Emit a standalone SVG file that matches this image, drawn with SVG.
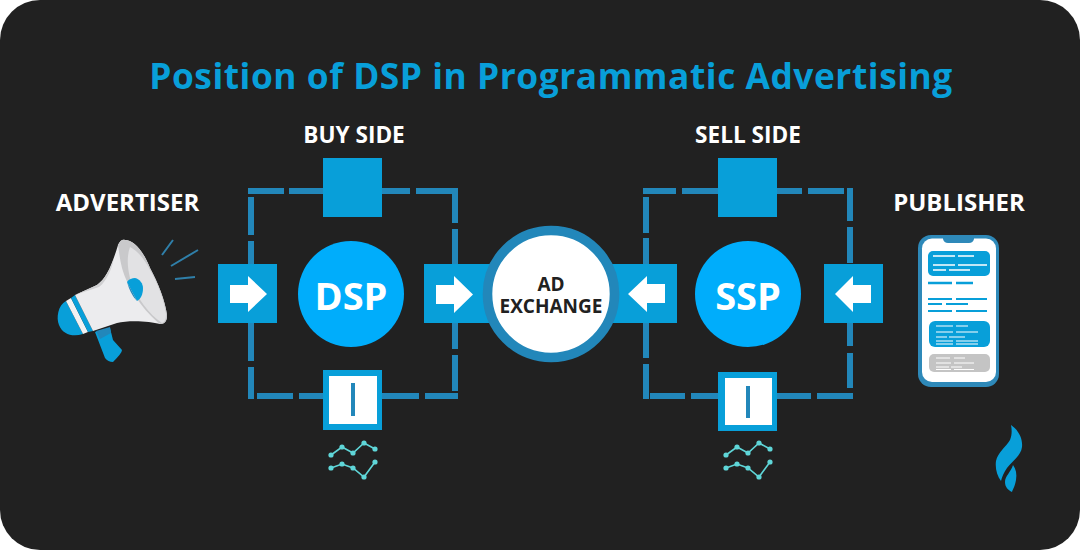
<svg xmlns="http://www.w3.org/2000/svg" width="1080" height="550" viewBox="0 0 1080 550">
<defs>
<style>
.lbl{font-family:"Open Sans","Liberation Sans",sans-serif;font-weight:700;fill:#fff;text-anchor:middle}
.dash{fill:none;stroke:#2287ba;stroke-width:6}
.sq{fill:#089fd9}
.hub{fill:#00adfb}
.hubt{font-family:"Open Sans","Liberation Sans",sans-serif;font-weight:700;font-size:38px;fill:#fff;text-anchor:middle}
.w{fill:#fff}
.chart{fill:none;stroke:#5fd6d8;stroke-width:1.6}
.pt{fill:#5fd6d8}
.pl{stroke:#fff;stroke-width:1.6;fill:none}
.pb{stroke:#089fd9;stroke-width:2.6;fill:none}
</style>
<g id="chartdef">
<path class="chart" d="M331 455L342 447L353 453L364 443L375 449M331 468L342 464L353 468L364 477L375 462"/>
<g class="pt"><circle cx="331" cy="455" r="2.6"/><circle cx="342" cy="447" r="2.6"/><circle cx="353" cy="453" r="2.6"/><circle cx="364" cy="443" r="2.6"/><circle cx="375" cy="449" r="2.6"/><circle cx="331" cy="468" r="2.6"/><circle cx="342" cy="464" r="2.6"/><circle cx="353" cy="468" r="2.6"/><circle cx="364" cy="477" r="2.6"/><circle cx="375" cy="462" r="2.6"/></g>
</g>
</defs>
<rect width="1080" height="550" fill="#fff"/>
<rect id="background" width="1080" height="550" rx="40" fill="#212121"/>
<text class="lbl" x="551" y="89" font-size="35.300" letter-spacing="0.55" style="fill:#089fd9">Position of DSP in Programmatic Advertising</text>
<text class="lbl" x="354" y="143" font-size="22.600">BUY SIDE</text>
<text class="lbl" x="748" y="143" font-size="22.600">SELL SIDE</text>
<text class="lbl" x="127.500" y="211" font-size="24">ADVERTISER</text>
<text class="lbl" x="959" y="211" font-size="24">PUBLISHER</text>

<g id="connectors">
<path class="dash" d="M251 197V235M251 241V277M251 323V361M251 367V399M248 191H284M289 191H323M382 191H410M416 191H452M455 188V223M455 229V264M455 323V349M455 355V391M257 396H293M299 396H323M382 396H419M425 396H458"/>
<path class="dash" d="M646 197V233M646 238V264M646 323V358M646 364V399M643 191H676M682 191H718M777 191H802M808 191H844M850 188V221M850 227V263M850 323V346M850 353V388M650 396H685M691 396H718M777 396H811M817 396H853"/>
</g>

<g id="node-buy-top"><rect class="sq" x="323" y="158" width="59" height="59"/></g>
<g id="node-buy-left"><rect class="sq" x="218" y="264" width="59" height="59"/><path class="w" d="M230 285H248V276L267 294L248 312V303H230Z"/></g>
<g id="node-buy-right"><rect class="sq" x="424" y="264" width="70" height="59"/><path class="w" d="M436 285H454V276L473 294.500L454 313V304H436Z"/></g>
<g id="node-buy-bottom"><rect class="sq" x="323" y="370" width="59" height="60"/><rect class="w" x="329" y="376" width="48" height="48"/><rect x="351" y="383" width="4" height="33" fill="#2287ba"/></g>
<g id="node-dsp"><circle class="hub" cx="351" cy="294" r="53"/><text class="hubt" x="351" y="310">DSP</text></g>

<g id="node-sell-top"><rect class="sq" x="718" y="158" width="59" height="59"/></g>
<g id="node-sell-left"><rect class="sq" x="608" y="264" width="69" height="59"/><path class="w" d="M665 284H647V276L628 294L647 312V303H665Z"/></g>
<g id="node-sell-right"><rect class="sq" x="824" y="264" width="59" height="59"/><path class="w" d="M871 285H853V276L835 294L853 312V303H871Z"/></g>
<g id="node-sell-bottom"><rect class="sq" x="718" y="372" width="59" height="59"/><rect class="w" x="725" y="378" width="47" height="47"/><rect x="746" y="386" width="4" height="32" fill="#2287ba"/></g>
<g id="node-ssp"><circle class="hub" cx="748" cy="294" r="53"/><text class="hubt" x="748" y="310">SSP</text></g>

<g id="node-exchange"><circle cx="551" cy="294" r="63.500" fill="#fff" stroke="#2287ba" stroke-width="9.600"/>
<text class="lbl" font-size="19" style="fill:#212121"><tspan x="551" y="290.500">AD</tspan><tspan x="551" y="313">EXCHANGE</tspan></text></g>

<g id="node-advertiser">
<path d="M95 332L110 328L113 340L122 350Q122 353 113 362Q108 362 105 358Z" fill="#089fd9"/>
<path d="M96 331L110 327L111 333L100 339Z" fill="#2287ba"/>
<path d="M66 301C58 305 56 318 59 325C63 335 73 337 83 334Z" fill="#089fd9"/>
<path d="M66 301L71 298L88 332L83 334Z" fill="#f2f2f3"/>
<path d="M71 298L75 295L93 331L88 332Z" fill="#089fd9"/>
<path d="M75 295L97 285C106 279 112 265 118 245C120 240 123 239 125 240C133 240 143 250 150 268C158 283 165 300 167 315C167 321 165 324 160 324C150 321 128 320 117 323L93 331Z" fill="#ececee"/>
<path d="M75 295L97 285C105 279 110 270 114 258C112 268 107 281 99 287Z" fill="#cfcfd1"/>
<path d="M118 245C120 240 123 239 125 240C133 240 143 250 150 268C158 283 165 300 167 315C167 321 165 324 160 324C145 312 128 290 122 268C120 260 119 252 118 245Z" fill="#c9c9cb"/>
<path d="M130 247C138 251 145 260 150 270C158 284 164 300 166 314C166 319 165 322 162 323C150 315 136 298 130 278C127 266 127 255 130 247Z" fill="#e2e2e4"/>
<path d="M127 282C129 279 132 278 135 278C140 279 143 284 143 288C143 294 141 299 137 301Z" fill="#089fd9"/>
<path d="M127 282L137 301C132 296 129 289 127 282Z" fill="#2287ba"/>
<path d="M162 255L173 240M171 266L198 250M175 279L195 277" stroke="#2f7fa9" stroke-width="2" fill="none"/>
</g>

<g id="node-publisher">
<rect x="918" y="235" width="81" height="152" rx="13" fill="#2e89b9"/>
<rect x="922" y="238.500" width="74" height="143.500" rx="10" fill="#fff"/>
<path d="M943 237H974V239Q973 243 969 243H948Q944 243 943 239Z" fill="#2e89b9"/>
<rect x="928" y="251" width="62" height="25" rx="5" fill="#089fd9"/>
<path class="pl" d="M933 256H955M958 256H974M933 265H955M958 265H987M933 270H946M949 270H970"/>
<path class="pb" d="M928 283H952M956 283H973"/>
<path d="M928 299H952M956 299H987M928 304H942M946 304H968M928 311H952M956 311H987" stroke="#089fd9" stroke-width="2" fill="none"/>
<rect x="929" y="321" width="61" height="26" rx="6" fill="#089fd9"/>
<path class="pl" d="M936 326H953M956 326H968M936 332H953M956 332H978M936 337H947M949 337H965M936 341H953M956 341H978M936 344H953M956 344H978" style="stroke-width:1.200"/>
<rect x="929" y="354" width="61" height="18" rx="5" fill="#c4c4c4"/>
<path class="pl" d="M936 358H950M954 358H965M936 363H951M954 363H974M936 367H949M951 367H962M936 369.500H951M954 369.500H974" style="stroke-width:1"/>
</g>

<g id="chart-buy"><use href="#chartdef"/></g>
<g id="chart-sell"><use href="#chartdef" x="395"/></g>

<g id="logo" fill="#089fd9">
<path d="M1011 425C1017 429 1023 437 1022 447C1021 456 1012 461 1007 468C1004 472 1002 477 1001 481C997 476 995 468 996 461C998 452 1006 447 1010 440C1012 435 1012 430 1011 425Z"/>
<path d="M1013 465C1016 469 1017 474 1016 480C1015 486 1013 489 1012 492C1008 490 1005 487 1005 482C1005 476 1011 472 1013 465Z"/>
</g>
</svg>
